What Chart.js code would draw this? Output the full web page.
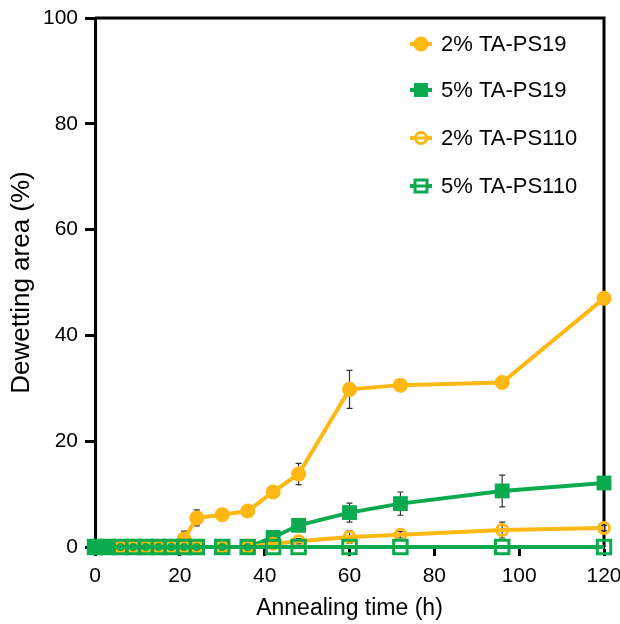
<!DOCTYPE html>
<html><head><meta charset="utf-8">
<script src="https://cdn.jsdelivr.net/npm/chart.js@4/dist/chart.umd.min.js"></script>
<style>html,body{margin:0;padding:0;background:#fff}#wrap{width:620px;height:624px}</style>
</head><body><div id="wrap"><canvas id="c" width="620" height="624"></canvas></div>
<script>
const times = [0,3,6,9,12,15,18,21,24,30,36,42,48,60,72,96,120];
const seriesNames = ['2% TA-PS19','5% TA-PS19','2% TA-PS110','5% TA-PS110'];
const ps19_2    = [0,0,0,0,0,0,0,1.5,5.5,6.1,6.8,10.4,13.8,29.8,30.6,31.1,47];
const ps19_2err = [0,0,0,0,0,0,0,1.5,1.5,0.5,0.6,1.0,2.0,3.6,0.4,0.6,0.4];
const ps19_5    = [0,0,0,0,0,0,0,0,0,0,0,1.8,4.1,6.5,8.2,10.6,12.1];
const ps19_5err = [0,0,0,0,0,0,0,0,0,0,0,0.3,0.4,1.8,2.2,3.0,0.5];
const ps110_2    = [null,null,0,0,0,0,0,0,0,0,0,0.6,1.1,1.9,2.3,3.2,3.6];
const ps110_2err = [0,0,0,0,0,0,0,0,0,0,0,0.3,0.5,1.2,0.6,1.5,0.5];
const ps110_5    = [0,0,0,0,0,0,0,0,0,0,0,0,0,0,0,0,0];
const ps110_5err = [0,0,0,0,0,0,0,0,0,0,0,0,0,0,0,0,0];

const YELLOW = '#FDB813';
const GREEN = '#0BAA4E';
const FONT = "'Liberation Sans', Arial, Helvetica, sans-serif";

function pts(vals){ return times.map((t,i)=>({x:t,y:vals[i]})); }

const errs = [ps19_2err, ps19_5err, ps110_2err, ps110_5err];

const datasets = [
  {label:seriesNames[0], data:pts(ps19_2), borderColor:YELLOW, backgroundColor:YELLOW,
   pointStyle:'circle', pointRadius:7.5, pointBorderWidth:0, pointBackgroundColor:YELLOW, order:4},
  {label:seriesNames[1], data:pts(ps19_5), borderColor:GREEN, backgroundColor:GREEN,
   pointStyle:'rect', pointRadius:10.5, pointBorderWidth:0, pointBackgroundColor:GREEN, order:3},
  {label:seriesNames[2], data:pts(ps110_2), borderColor:YELLOW, backgroundColor:'rgba(0,0,0,0)',
   pointStyle:'circle', pointRadius:5.5, pointBorderWidth:3, pointBackgroundColor:'rgba(0,0,0,0)', pointBorderColor:YELLOW, order:2},
  {label:seriesNames[3], data:pts(ps110_5), borderColor:GREEN, backgroundColor:'rgba(0,0,0,0)',
   pointStyle:'rect', pointRadius:9.5, pointBorderWidth:3, pointBackgroundColor:'rgba(0,0,0,0)', pointBorderColor:GREEN, order:1}
];
datasets.forEach(d=>{ d.borderWidth=4; d.clip=false; d.tension=0; d.spanGaps=false; d.pointHoverRadius=d.pointRadius; });

const errorBars = {
  id:'errorBars',
  beforeDatasetDraw(chart, args){
    const idx = args.index, meta = args.meta;
    const e = errs[idx]; const ys = chart.scales.y;
    const data = chart.data.datasets[idx].data;
    const ctx = chart.ctx;
    ctx.save(); ctx.strokeStyle='#333'; ctx.lineWidth=1.2;
    meta.data.forEach((p,i)=>{
      if(!e[i] || data[i].y===null) return;
      const x = p.x;
      const y1 = ys.getPixelForValue(data[i].y + e[i]);
      const y2 = ys.getPixelForValue(data[i].y - e[i]);
      ctx.beginPath();
      ctx.moveTo(x,y1); ctx.lineTo(x,y2);
      ctx.moveTo(x-3,y1); ctx.lineTo(x+3,y1);
      ctx.moveTo(x-3,y2); ctx.lineTo(x+3,y2);
      ctx.stroke();
    });
    ctx.restore();
  }
};

const frame = {
  id:'frame',
  beforeDatasetsDraw(chart){
    const a = chart.chartArea, ctx = chart.ctx;
    ctx.save(); ctx.strokeStyle='#000'; ctx.lineWidth=3;
    ctx.beginPath();
    ctx.moveTo(a.left, a.top); ctx.lineTo(a.right, a.top); ctx.lineTo(a.right, a.bottom);
    ctx.stroke(); ctx.restore();
  }
};

const legendBox = {
  id:'legendBox',
  afterDraw(chart){
    const ctx = chart.ctx;
    const rows = [44, 90, 138, 186];
    const mx = 421, tx = 441;
    ctx.save();
    ctx.font = '22px ' + FONT;
    ctx.textBaseline='middle'; ctx.textAlign='left';
    chart.data.datasets.forEach((d,i)=>{
      const y = rows[i];
      ctx.strokeStyle = d.borderColor; ctx.lineWidth = 4;
      ctx.beginPath(); ctx.moveTo(mx-11,y); ctx.lineTo(mx+11,y); ctx.stroke();
      const filled = (i<2);
      ctx.fillStyle = d.borderColor;
      if(d.pointStyle==='circle'){
        ctx.beginPath(); ctx.arc(mx,y, filled?7.5:5.5, 0, Math.PI*2);
        if(filled){ ctx.fill(); } else { ctx.fillStyle='#fff'; ctx.fill(); ctx.lineWidth=3; ctx.stroke();
          ctx.beginPath(); ctx.moveTo(mx-5,y); ctx.lineTo(mx+5,y); ctx.stroke(); }
      } else {
        if(filled){ ctx.fillRect(mx-7,y-7,14,14); }
        else { ctx.fillStyle='#fff'; ctx.fillRect(mx-6,y-6,12,12); ctx.lineWidth=3; ctx.strokeRect(mx-6,y-6,12,12);
               ctx.beginPath(); ctx.moveTo(mx-6,y); ctx.lineTo(mx+6,y); ctx.stroke(); }
      }
      ctx.fillStyle='#000';
      ctx.fillText(d.label, tx, y+1);
    });
    ctx.restore();
  }
};

new Chart(document.getElementById('c'), {
  type:'line',
  data:{datasets},
  options:{
    responsive:false, animation:false, devicePixelRatio:1,
    layout:{autoPadding:false, padding:{top:18,right:16,left:0,bottom:0}},
    plugins:{legend:{display:false}, tooltip:{enabled:false}},
    scales:{
      x:{type:'linear', min:0, max:120,
         afterFit(s){ s.height = 77; s.paddingRight = 0; s.paddingLeft = 0; },
         ticks:{stepSize:20, color:'#000', font:{family:FONT,size:21}, padding:8, maxRotation:0},
         grid:{drawOnChartArea:false, drawTicks:true, tickLength:9, tickWidth:3, tickColor:'#000'},
         border:{display:true, color:'#000', width:3},
         title:{display:true, text:'Annealing time (h)', color:'#000', font:{family:FONT,size:23}, padding:{top:0,bottom:2}}
      },
      y:{type:'linear', min:0, max:100,
         afterFit(s){ s.width = 95; s.paddingTop = 0; s.paddingBottom = 0; },
         ticks:{stepSize:20, color:'#000', font:{family:FONT,size:21}, padding:7},
         grid:{drawOnChartArea:false, drawTicks:true, tickLength:10, tickWidth:3, tickColor:'#000'},
         border:{display:true, color:'#000', width:3},
         title:{display:true, text:'Dewetting area (%)', color:'#000', font:{family:FONT,size:26}, padding:{top:6,bottom:0}}
      }
    }
  },
  plugins:[errorBars, frame, legendBox]
});
</script></body></html>
